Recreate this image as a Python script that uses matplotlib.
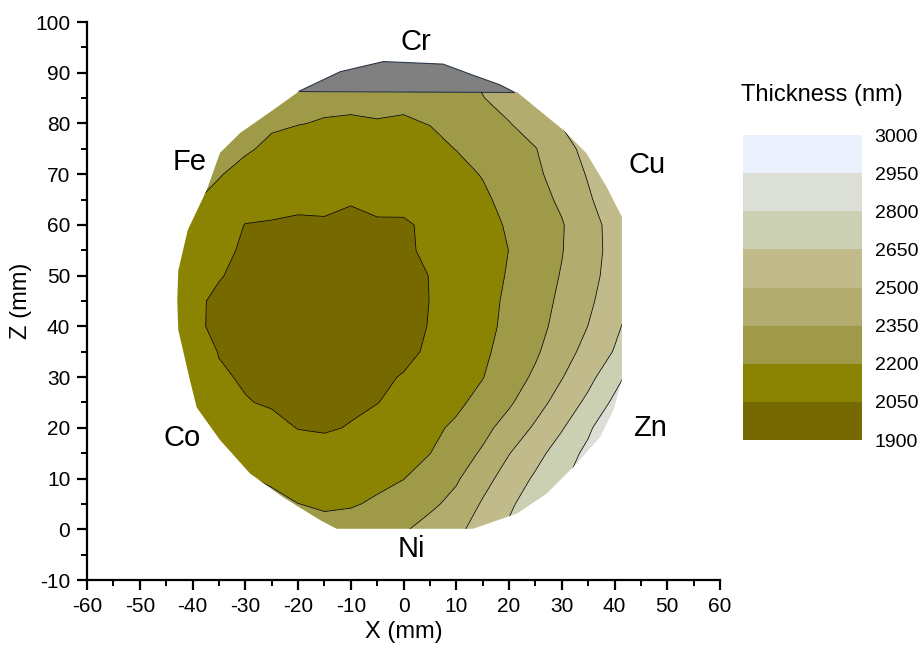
import numpy as np
import matplotlib
matplotlib.use('Agg')
import matplotlib.pyplot as plt
from matplotlib.colors import ListedColormap, BoundaryNorm
from matplotlib.patches import Polygon
from matplotlib.ticker import MultipleLocator
import matplotlib.colorbar as mcolorbar

plt.rcParams['font.family'] = ['Liberation Sans', 'DejaVu Sans']
plt.rcParams['axes.unicode_minus'] = False

# measurement grid (mm)
x_mm = [-45, -40, -35, -30, -25, -20, -15, -10, -5, 0, 5, 10, 15, 20, 25, 30, 35, 40, 45]
z_mm = [0, 5, 10, 15, 20, 25, 30, 35, 40, 45, 50, 55, 60, 65, 70, 75, 80, 85, 90]

# thickness (nm), one row per z value
thickness = [
    [2270, 2260, 2255, 2250, 2245, 2232, 2228, 2250, 2290, 2335, 2400, 2462, 2570, 2672, 2765, 2870, 2960, 3040, 3100],
    [2250, 2245, 2240, 2235, 2228, 2201, 2188, 2190, 2215, 2270, 2322, 2392, 2515, 2625, 2730, 2830, 2920, 3000, 3060],
    [2232, 2225, 2214, 2208, 2185, 2148, 2140, 2147, 2175, 2197, 2263, 2333, 2448, 2564, 2671, 2775, 2880, 2970, 3040],
    [2218, 2210, 2195, 2165, 2128, 2097, 2087, 2097, 2132, 2164, 2198, 2280, 2368, 2495, 2603, 2718, 2840, 2930, 3010],
    [2217, 2183, 2148, 2114, 2079, 2047, 2040, 2055, 2099, 2135, 2172, 2221, 2308, 2408, 2521, 2638, 2770, 2945, 3030],
    [2192, 2149, 2105, 2055, 2040, 2032, 2028, 2035, 2047, 2088, 2132, 2175, 2240, 2330, 2443, 2560, 2683, 2830, 2960],
    [2168, 2115, 2062, 2040, 2028, 2020, 2015, 2018, 2035, 2055, 2105, 2151, 2196, 2280, 2374, 2493, 2608, 2748, 2900],
    [2165, 2110, 2046, 2030, 2020, 2012, 2008, 2010, 2018, 2030, 2062, 2123, 2177, 2248, 2330, 2438, 2549, 2659, 2810],
    [2130, 2070, 2030, 2018, 2008, 2002, 2000, 2002, 2010, 2020, 2054, 2111, 2165, 2228, 2306, 2396, 2502, 2619, 2740],
    [2125, 2070, 2032, 2015, 2005, 1998, 1996, 1998, 2005, 2020, 2051, 2105, 2160, 2221, 2295, 2375, 2473, 2582, 2690],
    [2135, 2095, 2056, 2025, 2010, 2002, 1998, 2000, 2008, 2022, 2052, 2103, 2155, 2209, 2282, 2358, 2454, 2555, 2660],
    [2185, 2135, 2082, 2032, 2022, 2012, 2008, 2008, 2015, 2032, 2070, 2113, 2157, 2201, 2272, 2344, 2445, 2544, 2640],
    [2224, 2164, 2103, 2047, 2043, 2038, 2040, 2035, 2040, 2038, 2068, 2119, 2163, 2212, 2276, 2340, 2445, 2550, 2650],
    [2255, 2210, 2165, 2105, 2080, 2068, 2070, 2055, 2072, 2078, 2113, 2147, 2182, 2232, 2298, 2374, 2481, 2590, 2680],
    [2265, 2235, 2208, 2160, 2127, 2114, 2110, 2099, 2115, 2116, 2144, 2173, 2205, 2264, 2324, 2408, 2512, 2600, 2690],
    [2290, 2265, 2240, 2215, 2176, 2159, 2151, 2142, 2155, 2153, 2177, 2202, 2249, 2297, 2344, 2452, 2540, 2620, 2700],
    [2315, 2290, 2265, 2240, 2215, 2203, 2194, 2192, 2196, 2192, 2202, 2253, 2298, 2344, 2422, 2507, 2580, 2650, 2720],
    [2335, 2310, 2285, 2260, 2240, 2228, 2220, 2215, 2218, 2215, 2240, 2285, 2345, 2409, 2474, 2540, 2610, 2680, 2750],
    [2355, 2330, 2305, 2280, 2262, 2250, 2242, 2238, 2240, 2240, 2270, 2320, 2380, 2440, 2505, 2570, 2640, 2710, 2780],
]

# outline of the measured area
hull_x = [-20.0, -24.0, -31.0, -34.8, -37.3, -40.9, -42.7, -42.9, -42.7, -40.5, -39.2, -34.8, -29.1,
          -22.8, -15.8, -12.7, 13.2, 21.5, 27.1, 32.2, 37.3, 39.8, 41.4, 41.4, 38.5, 34.7, 30.3, 21.5]
hull_z = [86.2, 83.2, 78.1, 74.2, 66.9, 59.0, 51.0, 45.0, 39.3, 29.4, 24.0, 17.6, 11.0,
          6.3, 1.8, 0.1, 0.1, 3.1, 7.0, 12.3, 18.2, 23.5, 29.4, 61.6, 67.5, 74.1, 78.7, 86.2]

# Cr cap (no data)
cap_x = [-19.9, -12.0, -3.8, 7.5, 13.2, 18.3, 21.1]
cap_z = [86.3, 90.2, 92.2, 91.7, 89.5, 87.6, 86.1]

levels = [1900, 2050, 2200, 2350, 2500, 2650, 2800, 2950, 3000]
level_colors = ['#756900', '#8b8302', '#9f9a47', '#b2ad6f', '#c1bb8c', '#cad0b1', '#dbdfd6', '#eaf1fc']

elements = ['Cr', 'Fe', 'Cu', 'Co', 'Zn', 'Ni']
element_x = [2.4, -40.5, 46.2, -42.0, 46.7, 1.4]
element_z = [96.1, 72.4, 71.8, 17.9, 20.0, -3.9]

fig = plt.figure(figsize=(9.19, 6.55), dpi=100)
ax = fig.add_axes([0.0947, 0.1145, 0.6888, 0.8519])

cmap = ListedColormap(level_colors)
norm = BoundaryNorm(levels, cmap.N)

X, Z = np.meshgrid(x_mm, z_mm)
T = np.array(thickness, dtype=float)

hull = Polygon(np.column_stack([hull_x, hull_z]), closed=True,
               facecolor='none', edgecolor='none')
ax.add_patch(hull)

cf = ax.contourf(X, Z, T, levels=levels, cmap=cmap, norm=norm)
cf.set_clip_path(hull)
cl = ax.contour(X, Z, T, levels=levels[1:-1], colors='black', linewidths=0.55)
cl.set_clip_path(hull)

cap = Polygon(np.column_stack([cap_x, cap_z]), closed=True,
              facecolor='#808080', edgecolor='#2b3746', linewidth=0.8)
ax.add_patch(cap)

for name, ex, ez in zip(elements, element_x, element_z):
    ax.text(ex, ez, name, fontsize=21, ha='center', va='center')

ax.set_xlim(-60, 60)
ax.set_ylim(-10, 100)
ax.xaxis.set_major_locator(MultipleLocator(10))
ax.xaxis.set_minor_locator(MultipleLocator(5))
ax.yaxis.set_major_locator(MultipleLocator(10))
ax.yaxis.set_minor_locator(MultipleLocator(5))
ax.spines['top'].set_visible(False)
ax.spines['right'].set_visible(False)
for s in ['left', 'bottom']:
    ax.spines[s].set_linewidth(1.6)
ax.tick_params(which='major', direction='out', length=7, width=1.6, labelsize=15, pad=5)
ax.tick_params(which='minor', direction='out', length=4, width=1.4)
ax.set_xlabel('X (mm)', fontsize=17, labelpad=4)
ax.set_ylabel('Z (mm)', fontsize=17, labelpad=2)

# colour scale
cax = fig.add_axes([0.8085, 0.3282, 0.1295, 0.4656])
cb = mcolorbar.ColorbarBase(cax, cmap=cmap, norm=norm, boundaries=levels,
                            ticks=levels, spacing='uniform')
cb.outline.set_visible(False)
cax.tick_params(length=0, labelsize=14, pad=9)
fig.text(0.894, 0.855, 'Thickness (nm)', ha='center', va='center', fontsize=17)

fig.savefig('out.png', dpi=100)
